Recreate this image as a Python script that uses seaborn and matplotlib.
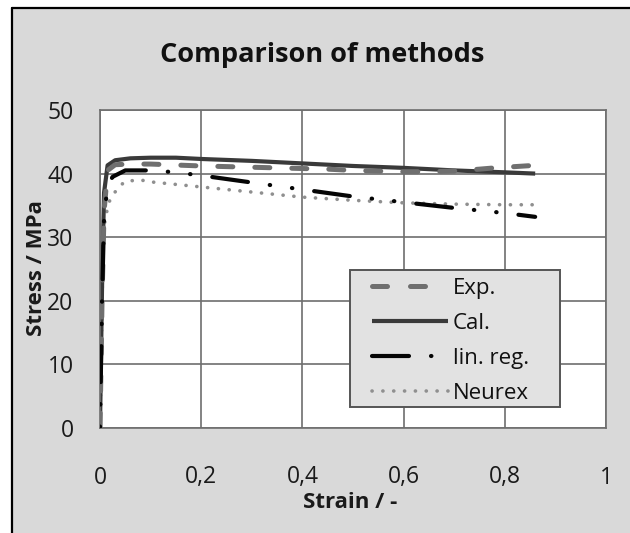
import numpy as np
import pandas as pd
import matplotlib
matplotlib.use("Agg")
import matplotlib.pyplot as plt
from matplotlib.lines import Line2D
from matplotlib.patches import Rectangle
import seaborn as sns

# ---- data ----
strain_exp = [0, 0.004, 0.008, 0.015, 0.03, 0.06, 0.1, 0.2, 0.3, 0.4, 0.45, 0.5, 0.6, 0.65, 0.7, 0.75, 0.78, 0.82, 0.86]
stress_exp = [0, 20, 34, 40.5, 41.4, 41.5, 41.5, 41.2, 41.0, 40.8, 40.7, 40.5, 40.3, 40.3, 40.4, 40.7, 40.9, 41.1, 41.3]

strain_cal = [0, 0.004, 0.008, 0.015, 0.03, 0.06, 0.1, 0.15, 0.2, 0.3, 0.4, 0.5, 0.6, 0.7, 0.8, 0.86]
stress_cal = [0, 22, 37, 41.3, 42.1, 42.4, 42.5, 42.5, 42.3, 42.0, 41.6, 41.2, 40.9, 40.5, 40.2, 40.0]

strain_lin = [0, 0.004, 0.008, 0.015, 0.025, 0.05, 0.1, 0.15, 0.2, 0.3, 0.4, 0.5, 0.6, 0.7, 0.8, 0.86]
stress_lin = [0, 20, 33, 38.2, 39.5, 40.5, 40.5, 40.2, 39.7, 38.6, 37.5, 36.4, 35.5, 34.6, 33.8, 33.2]

strain_neu = [0, 0.003, 0.006, 0.01, 0.02, 0.036, 0.05, 0.08, 0.1, 0.2, 0.3, 0.4, 0.5, 0.6, 0.7, 0.8, 0.86]
stress_neu = [0, 15, 28, 33, 36, 37.8, 38.8, 39.0, 38.7, 37.9, 37.1, 36.3, 35.8, 35.4, 35.2, 35.1, 35.1]

series_names = ["Exp.", "Cal.", "lin. reg.", "Neurex"]
x_ticks = [0, 0.2, 0.4, 0.6, 0.8, 1.0]
x_ticklabels = ["0", "0,2", "0,4", "0,6", "0,8", "1"]
y_ticks = [0, 10, 20, 30, 40, 50]

sns.set_theme(style="white")
plt.rcParams["font.family"] = ["Open Sans", "DejaVu Sans"]
plt.rcParams["lines.scale_dashes"] = False

W, H = 630, 533
PX = 0.72  # points per pixel at dpi 100
fig = plt.figure(figsize=(W / 100, H / 100), dpi=100)
fig.patch.set_facecolor("white")

# grey chart area with black frame at left/top
bg = Rectangle((12 / W, 0), 1 - 12 / W, 1 - 8 / H, transform=fig.transFigure,
               facecolor="#d9d9d9", edgecolor="none", zorder=-10)
fig.patches.append(bg)
fig.lines.append(Line2D([12 / W, 12 / W], [0, 1 - 8 / H], transform=fig.transFigure,
                        color="black", lw=1.6))
fig.lines.append(Line2D([12 / W, 1], [1 - 8 / H, 1 - 8 / H], transform=fig.transFigure,
                        color="black", lw=1.6))

AX_L, AX_R, AX_T, AX_B = 100, 606, 110, 428
ax = fig.add_axes([AX_L / W, 1 - AX_B / H, (AX_R - AX_L) / W, (AX_B - AX_T) / H])
ax.set_facecolor("white")

def to_ax(px, py):
    return ((px - AX_L) / (AX_R - AX_L), (AX_B - py) / (AX_B - AX_T))

frames = {
    "Exp.": pd.DataFrame({"strain": strain_exp, "stress": stress_exp}),
    "Cal.": pd.DataFrame({"strain": strain_cal, "stress": stress_cal}),
    "lin. reg.": pd.DataFrame({"strain": strain_lin, "stress": stress_lin}),
    "Neurex": pd.DataFrame({"strain": strain_neu, "stress": stress_neu}),
}
linreg_seq = (36 * PX, 22 * PX, 0.3, 22 * PX, 0.3, 22 * PX)
styles = {
    "Exp.": dict(color="#6f6f6f", lw=3.6, ls=(0, (15 * PX, 22 * PX))),
    "Cal.": dict(color="#3a3a3a", lw=3.0, ls="-"),
    "lin. reg.": dict(color="#050505", lw=3.0, ls=(41, linreg_seq)),
    "Neurex": dict(color="#8f8f8f", lw=2.6, ls=(0, (0.1, 10.7 * PX))),
}
legend_ls = {
    "Exp.": (0, (15 * PX, 23 * PX, 15 * PX, 80 * PX)),
    "Cal.": "-",
    "lin. reg.": (0, (37 * PX, 22 * PX, 0.3, 80 * PX)),
    "Neurex": (0, (0.1, 10.7 * PX)),
}
zorders = {"Neurex": 1, "Cal.": 2, "Exp.": 3, "lin. reg.": 4}

for name in ["Neurex", "Cal.", "Exp.", "lin. reg."]:
    st = styles[name]
    sns.lineplot(data=frames[name], x="strain", y="stress", ax=ax, sort=False,
                 estimator=None, color=st["color"], linewidth=st["lw"], label=name)
    ln = ax.lines[-1]
    ln.set_linestyle(st["ls"])
    ln.set_dash_capstyle("round")
    ln.set_solid_capstyle("butt")
    ln.set_zorder(zorders[name])

ax.set_xlim(0, 1)
ax.set_ylim(0, 50)
ax.set_xticks(x_ticks)
ax.set_xticklabels(x_ticklabels)
ax.set_yticks(y_ticks)
ax.grid(True, color="#6e6e6e", lw=1.2)
ax.set_axisbelow(True)
for s in ax.spines.values():
    s.set_visible(True)
    s.set_color("#6e6e6e")
    s.set_linewidth(1.2)
ax.tick_params(axis="both", length=0, labelsize=16.5, colors="#1a1a1a")
ax.tick_params(axis="x", pad=27)
ax.tick_params(axis="y", pad=19)

ax.set_xlabel("Strain / -", fontsize=16, fontweight="bold", color="#1a1a1a")
ax.set_ylabel("Stress / MPa", fontsize=16, fontweight="bold", color="#1a1a1a")
ax.xaxis.set_label_coords(*to_ax(350, 503))
ax.xaxis.label.set_va("center")
ax.yaxis.set_label_coords(*to_ax(37, 268))
ax.yaxis.label.set_va("center")

fig.text(322 / W, 1 - 55 / H, "Comparison of methods", ha="center", va="center",
         fontsize=19.5, fontweight="bold", color="#111111")

# legend frame drawn separately for exact placement
x0, y0 = to_ax(350, 407)
x1, y1 = to_ax(560, 270)
ax.add_patch(Rectangle((x0, y0), x1 - x0, y1 - y0, transform=ax.transAxes,
                       facecolor="#e2e2e2", edgecolor="#555555", lw=1.4, zorder=5))

lines_by = {l.get_label(): l for l in ax.lines}
leg = ax.legend([lines_by[n] for n in series_names], series_names,
                loc="upper left", bbox_to_anchor=to_ax(372, 278),
                fontsize=16, handlelength=76 * PX / 16, handletextpad=5 * PX / 16,
                labelspacing=0.63, borderpad=0, frameon=False, borderaxespad=0)
leg.set_zorder(6)
for n, hl in zip(series_names, leg.get_lines()):
    hl.set_linestyle(legend_ls[n])
    hl.set_dash_capstyle("round")
for t in leg.get_texts():
    t.set_color("#111111")

fig.savefig("out.png", dpi=100)
